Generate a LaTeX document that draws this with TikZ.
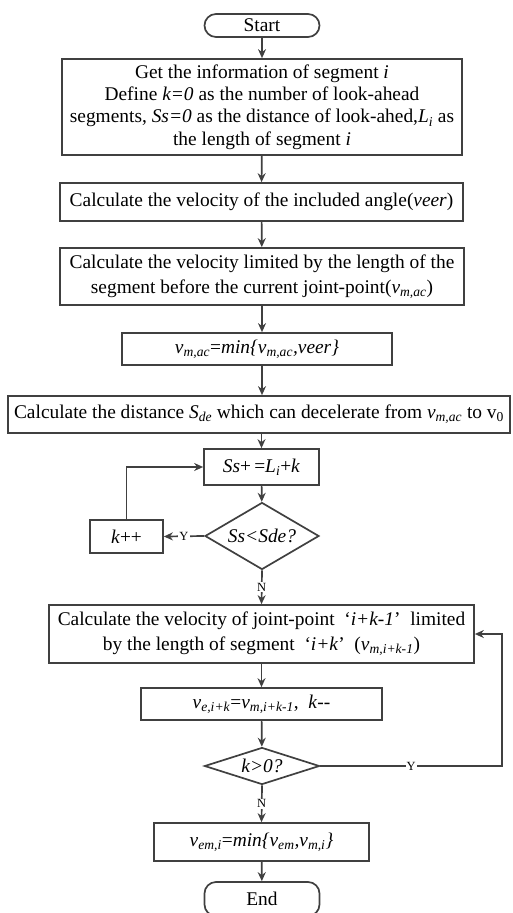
\documentclass[tikz,border=0pt]{standalone}
\usepackage{fontspec}
\setmainfont{Liberation Serif}
\usepackage{xcolor}
\usepackage{tikz}
\usetikzlibrary{arrows.meta, shapes.geometric}
\definecolor{linegray}{HTML}{404040}
\newcommand{\vsub}[2]{\textit{#1}\textsubscript{\textit{#2}}}

\begin{document}
\begin{tikzpicture}[x=1pt, y=-1pt, >={Stealth[length=9pt,width=8pt]},
    every node/.style={font=\fontsize{19.4}{25}\selectfont},
    box/.style={draw=linegray, line width=1.7pt, rectangle, align=center, inner sep=2pt},
    term/.style={box, rounded corners=11.5pt, minimum width=115pt, minimum height=23pt},
    decide/.style={draw=linegray, line width=1.7pt, diamond, inner sep=0pt},
    flow/.style={->, draw=linegray, line width=1.7pt},
    yn/.style={fill=white, inner sep=1pt, font=\fontsize{12.5}{12.5}\selectfont}]
    % Frame
    \useasboundingbox (0,0) rectangle (512,913);
    \clip (0,0) rectangle (512,913);
    % Start and set-up
    \node[term] (start) at (262,25.5) {Start};
    \node[box, minimum width=400pt, minimum height=96pt, font=\fontsize{19.4}{22.3}\selectfont] (info) at (262,107)
        {Get the information of segment \textit{i}\\Define \textit{k=0} as the number of look-ahead\\segments, \textit{Ss=0} as the distance of look-ahed,\vsub{L}{i} as\\the length of segment \textit{i}};
    \node[box, minimum width=403pt, minimum height=38pt] (angle) at (261.5,202)
        {Calculate the velocity of the included angle(\textit{veer})};
    \node[box, minimum width=404pt, minimum height=57pt] (limit) at (262,276.5)
        {Calculate the velocity limited by the length of the\\segment before the current joint-point(\vsub{v}{m,ac})};
    \node[box, minimum width=270pt, minimum height=32pt] (vmin) at (257,349)
        {\vsub{v}{m,ac}=\textit{min\{}\vsub{v}{m,ac}\textit{,veer\}}};
    \node[box, minimum width=502pt, minimum height=37pt] (sde) at (259,414.5)
        {Calculate the distance \vsub{S}{de} which can decelerate from \vsub{v}{m,ac} to v\textsubscript{0}};
    % Look-ahead loop
    \node[box, minimum width=115pt, minimum height=36pt] (sum) at (261.5,467) {\textit{Ss}+\,=\vsub{L}{i}+\textit{k}};
    \node[decide, minimum width=114pt, minimum height=67pt, aspect=1.7] (chk1) at (262,536) {\textit{Ss<Sde?}};
    \node[box, minimum width=73pt, minimum height=33pt] (kinc) at (126.5,536.5) {\textit{k}++};
    % Backward pass
    \node[box, minimum width=425pt, minimum height=58pt] (vel) at (261.5,634)
        {Calculate the velocity of joint-point\ \ ‘\textit{i+k-1}’\ \ limited\\by the length of segment\ \ ‘\textit{i+k}’\ \ (\vsub{v}{m,i+k-1})};
    \node[box, minimum width=241pt, minimum height=32pt] (vend) at (261.5,704)
        {\vsub{v}{e,i+k}=\vsub{v}{m,i+k-1},\ \ \textit{k}-{}-};
    \node[decide, minimum width=115pt, minimum height=37pt, aspect=3.1] (chk2) at (262,766) {\textit{k>0?}};
    \node[box, minimum width=215pt, minimum height=38pt] (vem) at (261.5,842)
        {\vsub{v}{em,i}=\textit{min\{}\vsub{v}{em}\textit{,}\vsub{v}{m,i}\textit{\}}};
    \node[term, minimum height=34pt] (end) at (262,899) {End};
    % Connectors
    \draw[flow] (start) -- (info);
    \draw[flow] (info) -- (angle);
    \draw[flow] (angle) -- (limit);
    \draw[flow] (limit.south) -- (limit.south |- vmin.north);
    \draw[flow] (limit.south |- vmin.south) -- (limit.south |- sde.north);
    \draw[flow] (sde.south -| sum.north) -- (sum.north);
    \draw[flow] (sum) -- (chk1);
    \draw[flow] (chk1.west) -- node[yn] {Y} (kinc.east);
    \draw[flow] (kinc.north) |- (sum.west);
    \draw[flow] (chk1.south) -- node[yn] {N} (vel.north);
    \draw[flow] (vel) -- (vend);
    \draw[flow] (vend) -- (chk2);
    \coordinate (back) at (502,766);
    \draw[flow] (chk2.east) -- node[yn] {Y} (back) |- (vel.east);
    \draw[flow] (chk2.south) -- node[yn] {N} (vem.north);
    \draw[flow] (vem) -- (end);
\end{tikzpicture}
\end{document}
